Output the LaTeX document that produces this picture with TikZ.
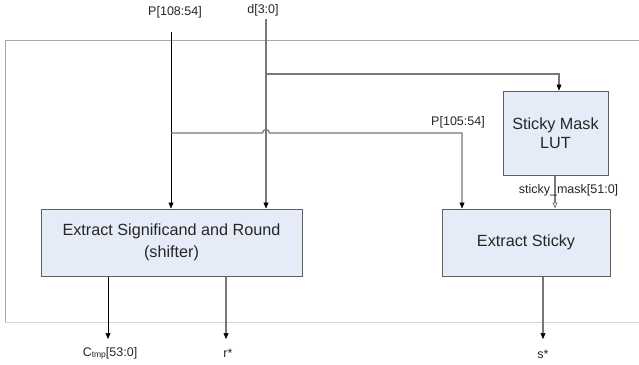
\documentclass[tikz,border=0pt]{standalone}
\usepackage{fontspec}
\setmainfont{Liberation Sans}
\usetikzlibrary{arrows.meta}
\definecolor{boxfill}{HTML}{E6ECF7}
\definecolor{boxline}{HTML}{606060}
\definecolor{wire}{HTML}{777777}
\definecolor{txt}{HTML}{262626}
\definecolor{frametop}{HTML}{A8A8A8}
\definecolor{framebot}{HTML}{D4D4D4}
\tikzset{
  blockbox/.style={draw=boxline, line width=1pt, fill=boxfill, align=center,
    text=txt, inner sep=0pt, font=\fontsize{16.2}{21.5}\selectfont},
  sig/.style={text=txt, inner sep=0pt, anchor=base, font=\fontsize{12.5}{14}\selectfont},
  blackwire/.style={draw=black, line width=0.8pt},
  graywire/.style={draw=wire, line width=1.3pt},
  tip/.style={-{Triangle[length=6pt,width=5pt,color=black,line width=0.5pt]}},
  opentip/.style={-{Triangle[open,length=6pt,width=5pt,fill=white,color=wire,line width=0.8pt]}},
}
\begin{document}
\begin{tikzpicture}[x=1pt,y=-1pt]
\useasboundingbox (0,0) rectangle (639,364);
% frame
\draw[frametop, line width=1pt] (639,40) -- (5,40) -- (5,322);
\draw[framebot, line width=1pt] (5,322) -- (639,322);
% blocks
\node[blockbox, minimum width=261pt, minimum height=67pt] (esig) at (171.5,242.5)
  {Extract Significand and Round\\(shifter)};
\node[blockbox, minimum width=168pt, minimum height=67pt] (estk) at (526,242.5)
  {Extract Sticky};
\node[blockbox, minimum width=105pt, minimum height=84pt,
  font=\fontsize{16.2}{18.5}\selectfont] (smask) at (555.5,133)
  {Sticky Mask\\LUT};
% input labels
\node[sig] (lp) at (175,15) {P[108:54]};
\node[sig] (ld) at (263,13) {d[3:0]};
\coordinate (pin) at (171,32);
\coordinate (din) at (266,19);
\coordinate (dbr) at (266,74);
\coordinate (pbr) at (171,133);
\coordinate (jmpa) at (262.5,133);
\coordinate (pst) at (462,133);
\coordinate (dst) at (559,74);
% P input
\draw[blackwire, tip] (pin) -- (pin |- esig.north);
% d input
\draw[graywire, tip] (din) -- (din |- esig.north);
\draw[graywire, tip] (dbr) -- (dst) -- (dst |- smask.north);
% P branch with jump over d
\draw[graywire, tip] (pbr) -- (jmpa) arc[start angle=180, end angle=0, radius=3.5pt]
  -- (pst) -- (pst |- estk.north);
\node[sig] (lp2) at (458,125) {P[105:54]};
% sticky mask
\coordinate (smo) at (555,175);
\draw[graywire, opentip] (smo |- smask.south) -- (smo |- estk.north);
\node[sig] (lsm) at (568.5,193) {sticky\_mask[51:0]};
% outputs
\coordinate (oc) at (108,339);
\coordinate (or) at (226,339);
\coordinate (os) at (543,339);
\draw[blackwire, tip] (oc |- esig.south) -- (oc);
\draw[graywire, tip] (or |- esig.south) -- (or);
\draw[graywire, tip] (os |- estk.south) -- (os);
\node[sig] (lc) at (110,356) {C\raisebox{-1.5pt}{\fontsize{8.5}{9}\selectfont tmp}[53:0]};
\node[sig] (lr) at (228,357) {r*};
\node[sig] (ls) at (543,358) {s*};
\end{tikzpicture}
\end{document}
